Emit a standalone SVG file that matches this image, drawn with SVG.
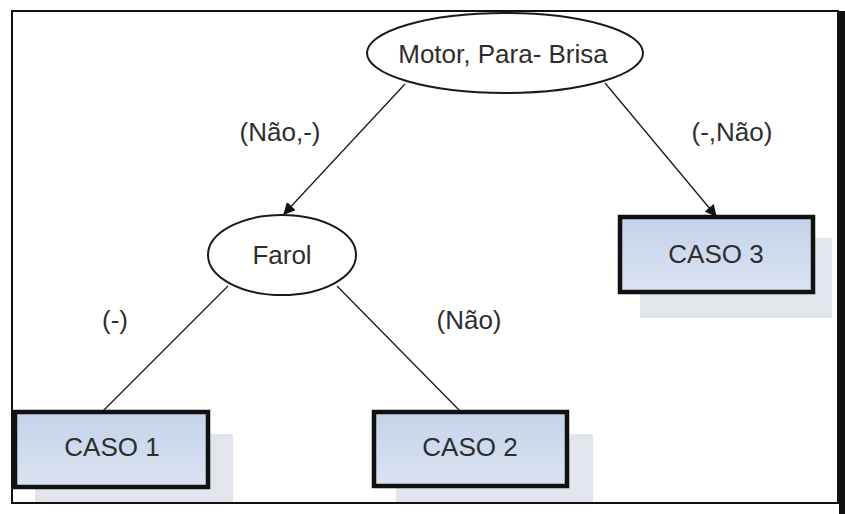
<svg xmlns="http://www.w3.org/2000/svg" width="845" height="514" viewBox="0 0 845 514">
  <style>
    .lbl { font-family: "Liberation Sans", Arial, sans-serif; font-size: 26px; fill: #2e2e2e; text-anchor: middle; }
    .oval { fill: #ffffff; stroke: #1a1a1a; stroke-width: 2; }
    .box { fill: url(#boxFill); stroke: #111111; stroke-width: 4.5; }
    .shadow { fill: #e2e5eb; }
    .edge { stroke: #1a1a1a; stroke-width: 1.3; fill: none; }
  </style>
  <defs>
    <linearGradient id="boxFill" x1="0" y1="0" x2="0" y2="1">
      <stop offset="0" stop-color="#c4d3ea"/>
      <stop offset="1" stop-color="#dae3f1"/>
    </linearGradient>
    <marker id="arrow" viewBox="0 0 10 10" refX="9" refY="5" markerWidth="12" markerHeight="12" markerUnits="userSpaceOnUse" orient="auto">
      <path d="M0,0 L10,5 L0,10 z" fill="#111111"/>
    </marker>
  </defs>

  <!-- page -->
  <rect x="0" y="0" width="845" height="514" fill="#ffffff"/>
  <rect x="12" y="11" width="826" height="492" fill="none" stroke="#111111" stroke-width="2"/>
  <rect x="839" y="11" width="6" height="503" fill="#111111"/>

  <!-- connectors -->
  <g id="connectors">
    <line class="edge" x1="405" y1="84" x2="284" y2="214" marker-end="url(#arrow)"/>
    <line class="edge" x1="605" y1="83" x2="716" y2="216" marker-end="url(#arrow)"/>
    <line class="edge" x1="228" y1="286" x2="102" y2="412"/>
    <line class="edge" x1="337" y1="286" x2="461" y2="412"/>
  </g>

  <!-- edge labels -->
  <g id="edge-labels">
    <text class="lbl" x="280" y="141">(Não,-)</text>
    <text class="lbl" x="732" y="141">(-,Não)</text>
    <text class="lbl" x="115" y="329">(-)</text>
    <text class="lbl" x="469" y="329">(Não)</text>
  </g>

  <g id="node-root">
    <ellipse class="oval" cx="505" cy="53" rx="138" ry="40"/>
    <text class="lbl" x="503" y="63">Motor, Para- Brisa</text>
  </g>

  <g id="node-farol">
    <ellipse class="oval" cx="282" cy="255" rx="74" ry="40"/>
    <text class="lbl" x="282" y="264">Farol</text>
  </g>

  <g id="node-caso3">
    <rect class="shadow" x="640" y="238" width="192" height="80"/>
    <rect class="box" x="620" y="217" width="193" height="75"/>
    <text class="lbl" x="716" y="263">CASO 3</text>
  </g>

  <g id="node-caso1">
    <rect class="shadow" x="35" y="434" width="198" height="68"/>
    <rect class="box" x="15" y="412" width="193" height="75"/>
    <text class="lbl" x="112" y="456">CASO 1</text>
  </g>

  <g id="node-caso2">
    <rect class="shadow" x="396" y="434" width="197" height="68"/>
    <rect class="box" x="374" y="412" width="193" height="74"/>
    <text class="lbl" x="470" y="456">CASO 2</text>
  </g>
</svg>
